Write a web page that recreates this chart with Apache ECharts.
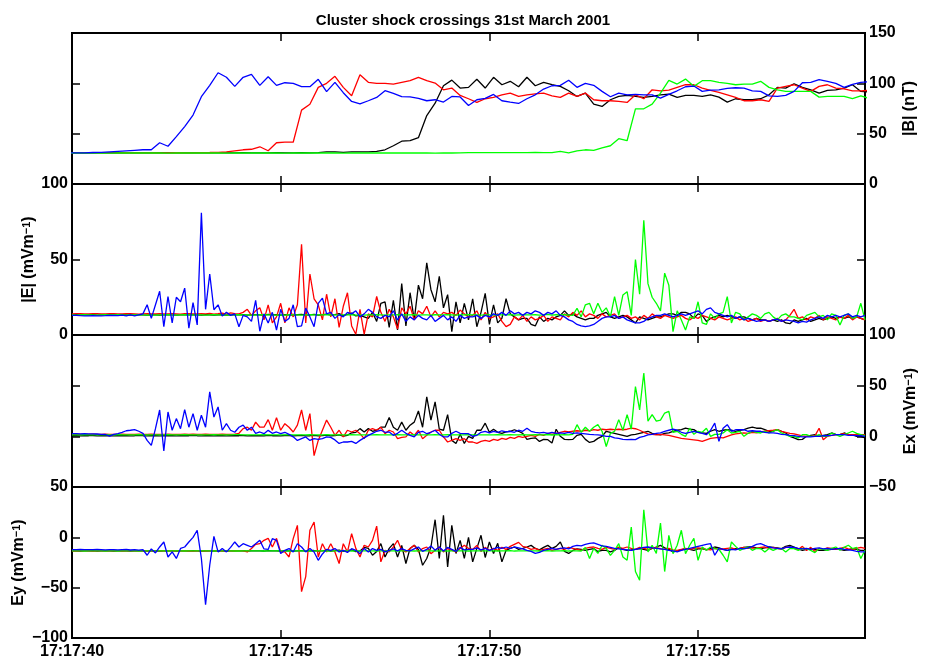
<!DOCTYPE html>
<html>
<head>
<meta charset="utf-8">
<script src="https://cdn.jsdelivr.net/npm/echarts@6/dist/echarts.min.js"></script>
<style>
  html, body { margin: 0; padding: 0; background: #ffffff; }
  #chart { width: 926px; height: 662px; }
</style>
</head>
<body>
<div id="chart"></div>
<script>
// Time is counted in seconds after 17:17:40 UT.
// |B| is sampled every 0.2 s, the electric field every 0.1 s.
const B_START = -0.1, B_STEP = 0.2;
const E_START = 0, E_STEP = 0.1;

// ---------- |B| (nT), spacecraft C1..C4 ----------
const B_C1 = [
  31, 31.1, 31, 30.9, 31, 31, 31.1, 31, 31, 30.9,
  31, 31.1, 31, 31, 30.9, 31, 31.1, 31, 31, 31,
  31, 31.1, 31, 30.9, 31, 31.1, 31, 31, 31.1, 31,
  31.2, 32, 32, 31.5, 32, 32, 32, 32.5, 34, 38,
  42.5, 43, 46, 68, 80.3, 97.6, 103.2, 95.3, 96, 104,
  95.3, 106, 98.6, 102, 96.6, 106, 97.6, 101, 98.6, 97,
  92.6, 87, 90.3, 79.3, 77, 83.7, 87, 88, 87, 86,
  87, 88.6, 89.3, 86, 88, 88, 87, 88.6, 86.3, 81.3,
  84.7, 83.7, 83.7, 84.7, 88.6, 96, 95.3, 99.6, 96, 93.6,
  90.3, 93, 93.6, 95.3, 98.6, 92, 91.5
];
const B_C2 = [
  31, 31, 31.1, 31, 31, 30.9, 31, 31.1, 31, 31,
  31, 31, 31, 31.1, 31, 31, 31.2, 31.3, 31.5, 32,
  33, 34, 34.5, 37, 33, 41, 41.5, 41.5, 73.4, 79.3,
  96, 100, 107, 96, 87.6, 108.6, 101, 100, 100, 99.3,
  101, 102.6, 106, 102.6, 100.3, 93.6, 95.3, 88, 84.7, 81,
  84.7, 86, 88.6, 90.3, 87, 88.6, 89.6, 90.3, 87.6, 86,
  90.3, 87, 90.3, 83.7, 82.7, 82.7, 82, 81, 88.6, 84.7,
  93.6, 92.6, 93.3, 96, 98.6, 98.6, 95.3, 93, 91, 88.6,
  86, 82.7, 82.7, 83.7, 82, 95.3, 97, 98.6, 95.3, 92,
  97, 98.6, 95.3, 94.6, 92.6, 92.6, 93
];
const B_C3 = [
  30.8, 30.8, 30.9, 30.8, 30.8, 30.7, 30.8, 30.8, 30.9, 30.8,
  30.8, 30.8, 30.7, 30.8, 30.8, 30.9, 30.8, 30.8, 30.8, 30.7,
  30.8, 30.8, 30.9, 30.8, 30.8, 30.8, 30.7, 30.8, 30.8, 30.9,
  30.8, 30.8, 30.8, 30.7, 30.8, 30.8, 30.9, 30.8, 30.8, 30.8,
  30.8, 30.9, 30.8, 30.8, 30.7, 30.8, 30.8, 31, 31.2, 31.1,
  31.2, 31.1, 31.2, 31.2, 31.1, 31.2, 31.3, 31.2, 31.2, 32.5,
  31, 33, 34, 33.5, 36, 38, 45, 43, 74.7, 74.7,
  79.3, 90.3, 103, 99.3, 104.2, 97, 102.6, 102.6, 101, 100,
  98.6, 99.3, 99.3, 102, 96, 93.6, 92, 92, 92, 92,
  86.3, 87, 87, 87, 84.7, 87.6, 85
];
const B_C4 = [
  31, 31, 31, 31.3, 31.5, 32, 32.5, 33, 33.5, 34,
  34, 41, 37.5, 47, 57, 68.5, 86.7, 98, 110.5, 106,
  97, 106, 109, 98, 106.5, 98, 100.6, 100, 96.7, 96.7,
  104, 91.7, 101, 90.7, 82, 79.7, 82.7, 86, 92.7, 90,
  86.7, 86.5, 85, 82.7, 83.7, 81.4, 87, 86.5, 78, 83.7,
  85, 89, 82.7, 81.3, 80, 84.7, 88.6, 94.3, 97.6, 98,
  103, 96, 100, 98, 92, 86.7, 90.3, 88.6, 89, 88.6,
  88.6, 85.3, 89, 92.6, 96.6, 97.3, 92, 93.3, 93.6, 95,
  95.6, 95.3, 92.6, 92, 87.6, 87, 88, 92, 100.6, 101,
  103.6, 102, 100, 96, 99, 101, 101.5
];

// ---------- |E| (mV/m) ----------
const E_C1 = [
  13.3, 13.4, 13.2, 13.3, 13.3, 13.5, 13.2, 13.3, 13.4, 13.3,
  13.2, 13.3, 13.4, 13.3, 13.2, 13.3, 13.5, 13.3, 13.2, 13.4,
  13.3, 13.2, 13.3, 13.4, 13.3, 13.2, 13.3, 13.4, 13.3, 13.5,
  13.3, 13.2, 13.4, 13.3, 13.2, 13.3, 13.4, 13.2, 13.3, 13.4,
  13.3, 13.5, 13.2, 13.3, 13.4, 13.3, 13.2, 13.6, 13.3, 13.4,
  13.2, 13.5, 13.3, 13.1, 13.4, 13.6, 13.2, 13.3, 13.7, 13.1,
  13.4, 13.8, 13.2, 13.5, 14.2, 12.8, 13.6, 14.5, 12.6, 13,
  12, 11, 15, 9, 21, 22, 5, 23, 3.3, 34,
  6, 28, 10, 33, 24, 47.8, 30, 22, 38.9, 18,
  26.7, 2.2, 22, 8, 21, 10, 24, 5.5, 15, 27.6,
  7, 20, 8, 11, 24, 14, 12, 10, 11, 11,
  7, 6, 12, 9, 11, 10, 12, 13, 16, 13,
  14, 12, 11, 10, 11, 11, 13, 14, 15, 12,
  11, 12, 13, 12, 10, 8, 12, 11, 10, 11,
  12, 12, 13, 14, 14, 13, 15, 15, 14, 11,
  14, 13, 9, 11, 12, 13, 12, 13, 12, 11,
  12, 12, 11, 10, 11, 10, 10, 9, 10, 9,
  10, 8, 7.5, 10, 9, 10, 11, 9, 10, 11,
  10, 11, 12, 11, 12, 11, 12, 11, 12, 11,
  10
];
const E_C2 = [
  14, 14.2, 14.1, 13.9, 14, 14.2, 14.1, 14, 13.9, 14.1,
  14.2, 14, 13.9, 14.1, 14.2, 14, 13.8, 14, 14.1, 13.9,
  14, 14.2, 14, 13.9, 14.1, 14, 13.8, 14.1, 14.2, 14,
  13.9, 14.1, 14, 14.3, 13.8, 14.1, 14.5, 13.9, 14.6, 14.2,
  14, 15, 17, 13, 16, 18, 10, 20, 8, 12,
  21, 8, 18, 12, 20, 60, 8, 40.4, 24, 20,
  10, 27, 12, 24, 5, 19, 28, 6, 0.5, 17,
  0.5, 14, 12, 25.5, 15, 9, 17, 12, 4, 18,
  14, 19, 10, 16, 14, 19, 12, 16, 12, 15,
  14, 15, 13, 16.5, 14, 12, 13, 16, 10, 15,
  11, 12, 14, 9, 5.5, 7, 12, 10, 13, 9,
  12, 10, 11, 13, 9, 12, 11, 10, 14, 12,
  15, 13, 16, 12, 14, 13, 11, 14, 12, 13,
  14, 11, 12, 13, 11, 12, 10, 13, 11, 14,
  12, 11, 13, 12, 11, 12, 13, 11, 10, 12,
  11, 13, 12, 11, 10, 12, 11, 10, 11, 12,
  10, 11, 9, 10, 11, 9, 10, 9, 10, 11,
  9, 10, 13, 17, 11, 12, 10, 12, 11, 13,
  10, 12, 11, 10, 12, 11, 13, 10, 12, 11,
  10
];
const E_C3 = [
  13.3, 13.2, 13.3, 13.4, 13.3, 13.3, 13.2, 13.3, 13.4, 13.3,
  13.3, 13.4, 13.3, 13.2, 13.3, 13.3, 13.4, 13.3, 13.2, 13.3,
  13.2, 13.3, 13.3, 13.4, 13.3, 13.2, 13.3, 13.4, 13.3, 13.3,
  13.3, 13.3, 13.2, 13.3, 13.4, 13.3, 13.3, 13.2, 13.3, 13.4,
  13.4, 13.3, 13.3, 13.2, 13.3, 13.3, 13.4, 13.3, 13.3, 13.2,
  13.3, 13.2, 13.4, 13.3, 13.3, 13.2, 13.3, 13.4, 13.3, 13.3,
  13.3, 13.4, 13.3, 13.3, 13.2, 13.3, 13.3, 13.4, 13.2, 13.3,
  13.2, 13.3, 13.3, 13.4, 13.3, 13.2, 13.3, 13.3, 13.4, 13.3,
  13.3, 13.3, 13.4, 13.2, 13.3, 13.3, 13.2, 13.4, 13.3, 13.3,
  13.4, 13.3, 13.2, 13.3, 13.3, 13.4, 13.3, 13.3, 13.2, 13.3,
  13.3, 13.2, 13.4, 13.3, 13.3, 13.5, 13.2, 13.3, 13.4, 13.3,
  13.3, 13.4, 13.2, 13.3, 13.6, 13.1, 13.4, 13.3, 13.5, 13.2,
  13, 17.7, 12, 20, 21, 14, 21, 15, 18, 12,
  25.4, 13, 26.5, 28.7, 13, 50, 27, 76, 34, 25,
  21, 16, 41, 33, 2.2, 16, 10, 3.3, 12, 11,
  22, 8, 7, 14, 11, 14, 15, 25.4, 8, 15,
  14, 10, 12, 14, 13, 11, 14, 15, 12, 10,
  13, 14, 12, 12, 11, 10, 13, 14, 15, 12,
  13, 10, 14, 13, 6.6, 13, 14, 11, 12, 21,
  10
];
const E_C4 = [
  13, 13, 12.8, 12.7, 12.7, 12.8, 12.6, 12.7, 12.8, 13,
  12.9, 12.8, 13.2, 12.7, 13.3, 12.6, 13.4, 14, 20, 11,
  20, 29, 5.5, 25.5, 8, 25, 22, 31, 4.5, 21.5,
  6.7, 81, 17, 40.4, 16.7, 20, 12.5, 15, 13, 14,
  5.5, 13, 12, 9, 23, 2.5, 14, 8, 15, 3.3,
  17, 9, 11, 20, 5.5, 6, 17.8, 12, 5.5, 21,
  24.4, 14, 15, 11, 13.5, 12, 15, 14, 16, 12,
  14, 17, 15, 12, 11, 13, 12, 16, 10, 14,
  9, 12, 10, 13, 11, 10, 13, 9, 11, 13,
  10, 12, 9, 13, 11, 12, 12, 13, 11, 13,
  12, 14, 13, 15, 13, 16, 14, 15, 13, 15,
  14, 16, 15, 13, 15, 14, 16, 13, 12, 10,
  9, 7, 6, 5.5, 6, 7, 9, 11, 12, 12,
  13, 11, 12, 10, 9, 8, 8, 9, 11, 12,
  13, 13, 14, 13, 12, 13, 14, 13, 14, 15,
  16, 14, 17, 18, 15, 14, 13, 12, 13, 11,
  12, 10, 11, 10, 9, 9.5, 10, 9, 10, 10.5,
  9, 10, 9.5, 9, 8, 9, 8.5, 10, 11, 12,
  11, 13, 12, 13, 12, 13, 14, 12, 13, 12,
  13
];

// ---------- Ex (mV/m) ----------
const EX_C1 = [
  0.6, 0.7, 0.5, 0.6, 0.6, 0.8, 0.5, 0.6, 0.7, 0.6,
  0.5, 0.6, 0.7, 0.6, 0.5, 0.6, 0.8, 0.6, 0.5, 0.7,
  0.6, 0.5, 0.6, 0.7, 0.6, 0.5, 0.6, 0.7, 0.6, 0.8,
  0.6, 0.5, 0.7, 0.6, 0.5, 0.6, 0.7, 0.5, 0.6, 0.7,
  0.6, 0.8, 0.5, 0.6, 0.7, 0.6, 0.5, 0.9, 0.6, 0.7,
  0.5, 0.8, 0.6, 0.4, 0.7, 0.9, 0.5, 0.6, 1, 0.4,
  0.7, 1.1, 0.5, 0.8, 1.5, 0.3, 1, 3.5, 4, 7.6,
  4.3, 7.6, 5, 6, 9, 9, 18.5, 9, 6, 14,
  6, 11, 14, 25, 9, 39, 16, 34, 7, 6,
  21.5, -4, -7, 2, -7, 0, -2, 6, 6, 13,
  4, 7, 4, 3, 4.5, 5, 6.5, 5, 3, -3,
  -2, -1.5, -5, -3, -3.3, -6.6, 7, 0, -3, -3.3,
  -3, 1, 2, -3, -6, -5, -2, 0, 5, 4,
  3, 2, 1, 0, 1.5, 2, 3, 4, 5, 3,
  2, 1.5, 3, 3.5, 5, 6, 6.6, 8, 7, 6.6,
  4, 3.5, 3, 5, 6.6, 5, 6, 6.6, 6, 5,
  6, 6.6, 8, 9, 8, 8, 6.6, 5, 5, 6.6,
  5, 3.3, 0, -1.6, -3.3, -3, 0, 1, 1.6, 0,
  1, 1.6, 3.3, 2, 1.6, 3.3, 2, 1.6, 0, 0,
  -1.6
];
const EX_C2 = [
  2, 2.1, 1.9, 2, 2, 2.2, 1.9, 2, 2.1, 2,
  1.9, 2, 2.1, 2, 1.9, 2, 2.2, 2, 1.9, 2.1,
  2, 1.9, 2, 2.1, 2, 1.9, 2, 2.1, 2, 2.2,
  2, 1.9, 2.1, 2, 1.9, 2, 2.1, 1.9, 2, 2.2,
  3, 7.6, 9, 6, 14, 9, 9, 16.5, 6, 18.5,
  6, 12.5, 9, 4.3, 11, 26, 6, 22.5, -19, -4,
  6, 16, 9, 1, 6, -0.6, 6, 4.3, 6, 2.6,
  -2.3, 6, 7.6, 6, 9, 2.6, 6, 4.3, -2.3, -1,
  -0.6, 4.3, 1, 6, -2.3, 1, 4.3, 6, 6, -0.6,
  -5.6, -4, -2.3, -4, -2.3, -5.6, -5.6, -7, -5, -4,
  -5, -3, -4, -2, -3, -1, -2, 0, -1, 0,
  1, 0, 2, 1, 3, 2, 3, 4, 5, 4.5,
  5, 5.5, 5, 6, 5.5, 6.6, 6, 7, 6.5, 7,
  6.6, 7, 6.5, 7, 8, 7.5, 6, 4, 2.5, 2,
  1.5, 2, 1.5, 1, 0, -1, -2, -2.5, -3, -3.5,
  -4, -5, -3.5, -2, -1.5, -1, -1.5, 0, 1.5, 2.5,
  3, 3.5, 3, 4, 3.5, 4.5, 5, 5.5, 6, 6.6,
  5, 4, 3, 2.5, 1.5, 0.5, 0, 0, 0.5, 8,
  -3.3, 0, 1, 1.5, 2, 2.6, 2, 1.6, 1.6, 1.6,
  1.6
];
const EX_C3 = [
  1.5, 1.4, 1.5, 1.6, 1.5, 1.5, 1.4, 1.5, 1.6, 1.5,
  1.5, 1.6, 1.5, 1.4, 1.5, 1.5, 1.6, 1.5, 1.4, 1.5,
  1.4, 1.5, 1.5, 1.6, 1.5, 1.4, 1.5, 1.6, 1.5, 1.5,
  1.5, 1.5, 1.4, 1.5, 1.6, 1.5, 1.5, 1.4, 1.5, 1.6,
  1.6, 1.5, 1.5, 1.4, 1.5, 1.5, 1.6, 1.5, 1.5, 1.4,
  1.5, 1.4, 1.6, 1.5, 1.5, 1.4, 1.5, 1.6, 1.5, 1.5,
  1.5, 1.6, 1.5, 1.5, 1.4, 1.5, 1.5, 1.6, 1.4, 1.5,
  1.4, 1.5, 1.5, 1.6, 1.5, 1.4, 1.5, 1.5, 1.6, 1.5,
  1.5, 1.5, 1.6, 1.4, 1.5, 1.5, 1.4, 1.6, 1.5, 1.5,
  1.6, 1.5, 1.4, 1.5, 1.5, 1.6, 1.5, 1.5, 1.4, 1.5,
  1.5, 1.4, 1.6, 1.5, 1.5, 1.7, 1.4, 1.5, 1.6, 1.5,
  1.5, 1.6, 1.4, 1.5, 1.8, 1.3, 1.6, 1.5, 1.7, 1.4,
  2, 11.5, 4, 9, 5, 9, 11.5, 5, -10, 3,
  5, 16.5, 6, 21.4, 7, 49, 26, 62.5, 15, 21.4,
  15, 16, 23, 24.7, 4, 5, 2, 0, 8, 2,
  5, 4, 8, 0, 2, 2, 3.3, 6.6, 3.3, 4,
  5, 0, 3, 5, 4, 3.3, 5, 3.3, 5, 6.6,
  3.3, 1.6, 0, 0, -1.6, 1.6, 1.6, 0, 0, 1.6,
  0, 0, 3.3, 1.6, 0, 1.6, 3.3, 5, 3, 1.6,
  0.6
];
const EX_C4 = [
  2.6, 2.6, 2.5, 2.6, 2.5, 2.4, 2.3, 2, 1.8, 0.3,
  2, 2.6, 4, 5.5, 6, 6.6, 5, 3, -4, -9,
  7.6, 26, -14.5, 24, 6, 17.5, 7.6, 26.4, 9, 22.4,
  6, 20.8, 9, 43.9, 19, 29, 6, 12.5, 6, 4,
  9, 11, 6, 9, 3, 4.3, 2.6, 5.9, 3, 4.3,
  2.6, 4, 2, -0.5, -4, -2.3, -0.6, -4, -2.3, -3,
  -2.3, -0.6, -1, -3.5, -7, -5.6, -5.6, -5, -7, -4,
  -1.5, 1, 3, 5, 6, 4, 4.3, 1, 3, 6,
  3, 1, -0.6, 4, 5, 2.6, 4, 6, 2, -0.6,
  -0.6, 3, 5, 3, 2.6, 2.6, 0, 1, 4, 5,
  3.5, 5, 4, 5.5, 4.5, 5, 4, 6, 5, 8,
  5, 4, 3.5, 4, 3, 4, 3, 3.5, 3, 4,
  3, 3.5, 3, 2.5, 2, 1.6, 1.5, 1, 0, 0,
  -1.5, -2, -3, -3.3, -3, -3.3, -1, 0, 1.5, 2,
  3, 3.5, 5, 6, 7, 6, 4, 3, 4, 5,
  4, 3, 1.6, 6, 13, -5, 8, 11.5, 5, 6.5,
  6.5, 6.5, 5, 5.5, 5, 5, 4, 3.5, 3.5, 3,
  2, 1.6, 1, 0.6, 0, -0.6, -0.6, -0.6, 0, 0,
  0.6, 0.6, 1, 1.6, 1.6, 1.6, 1, 1, 0.6, 0.6,
  0
];

// ---------- Ey (mV/m) ----------
const EY_C1 = [
  -13.5, -13.4, -13.6, -13.5, -13.5, -13.3, -13.6, -13.5, -13.4, -13.5,
  -13.6, -13.5, -13.4, -13.5, -13.6, -13.5, -13.3, -13.5, -13.6, -13.4,
  -13.5, -13.6, -13.5, -13.4, -13.5, -13.6, -13.5, -13.4, -13.5, -13.3,
  -13.5, -13.6, -13.4, -13.5, -13.6, -13.5, -13.4, -13.6, -13.5, -13.4,
  -13.5, -13.3, -13.6, -13.5, -13.4, -13.5, -13.6, -13.2, -13.5, -13.4,
  -13.6, -13.3, -13.5, -13.7, -13.4, -13.2, -13.6, -13.5, -13.1, -13.7,
  -13.4, -13, -13.6, -13.3, -12.6, -14, -13.2, -12.4, -14.2, -13.5,
  -10, -11, -17.8, -14, -6.3, -19.5, -11, -6.3, -19.5, -8,
  -26, -11, -7.9, -12, -27.7, -21, -9.6, 17.5, -21, 21.8,
  -29.4, 11.9, -16, -3, -21, 0, -24.4, -11, 2, -20,
  -4.6, -16, -6, -24.4, -12.9, -11, -9.6, -12, -11, -9.6,
  -8, -11, -12.5, -10, -8, -11, -9, -4.6, -14, -16,
  -13, -11.5, -12, -13, -12, -11.2, -14, -13, -12.9, -14.5,
  -13, -10, -12, -12.9, -12.5, -12, -11.2, -12, -12.9, -11,
  -9.6, -8, -10.5, -12, -14.5, -13.5, -12.5, -11.2, -12, -12.9,
  -11.5, -11.2, -12.5, -11, -9.6, -10.5, -12, -12.9, -12, -11.2,
  -11, -10, -9.6, -9.6, -10.5, -11.2, -10.5, -9.6, -10, -10.5,
  -11.2, -9, -8, -9.6, -11.5, -12.9, -12, -11.2, -12, -12.9,
  -12.9, -12.5, -12, -11.2, -12, -12.9, -12.5, -11.2, -12, -12.9,
  -12.9
];
const EY_C2 = [
  -13.5, -13.6, -13.4, -13.5, -13.5, -13.7, -13.4, -13.5, -13.6, -13.5,
  -13.4, -13.5, -13.6, -13.5, -13.4, -13.5, -13.7, -13.5, -13.4, -13.6,
  -13.5, -13.4, -13.5, -13.6, -13.5, -13.4, -13.5, -13.6, -13.5, -13.7,
  -13.5, -13.4, -13.6, -13.5, -13.4, -13.5, -13.6, -13.4, -13.5, -13.6,
  -13.5, -13.5, -14.5, -11.2, -7, -6.3, -3, -1, -9.6, -1,
  -14.5, -14.5, -19.5, -1.3, 11.9, -54, -39, 7, 15.2, -19.5,
  -6.3, -14.5, -6.3, -14.5, -26, -6.3, -14.5, 3.6, -11, -19.5,
  -7.9, -9.6, -3, 11.2, -24.4, -12.9, -14.5, -9.6, -3, -12.9,
  -14.5, -11.2, -7.9, -14.5, -11.2, -9.6, -16.2, -12.9, -9.6, -14.5,
  -11.2, -12.9, -14.5, -11.2, -7.9, -11, -12, -8, -14, -10,
  -13, -11, -13, -10, -12, -9, -7, -5, -9, -10,
  -12, -11, -13, -12, -11, -13, -12, -11, -12, -10,
  -11, -12, -13, -11, -10, -9.6, -11, -12, -10, -11,
  -12, -10, -11, -9.6, -11, -12, -10, -11, -12, -11,
  -10, -11.5, -12, -11, -12.5, -13, -12, -11, -12, -11,
  -10.5, -11, -12, -12.5, -11, -12, -11.5, -11, -10.5, -12,
  -11, -10, -11, -10.5, -11, -10, -9.6, -11, -10, -11,
  -12, -10, -9.6, -11, -12, -9, -13, -10, -14, -11,
  -12, -10.5, -11, -12, -11, -10, -11.5, -12, -11, -10,
  -11
];
const EY_C3 = [
  -13.5, -13.4, -13.5, -13.6, -13.5, -13.5, -13.4, -13.5, -13.6, -13.5,
  -13.5, -13.6, -13.5, -13.4, -13.5, -13.5, -13.6, -13.5, -13.4, -13.5,
  -13.4, -13.5, -13.5, -13.6, -13.5, -13.4, -13.5, -13.6, -13.5, -13.5,
  -13.5, -13.5, -13.4, -13.5, -13.6, -13.5, -13.5, -13.4, -13.5, -13.6,
  -13.6, -13.5, -13.5, -13.4, -13.5, -13.5, -13.6, -13.5, -13.5, -13.4,
  -13.5, -13.4, -13.6, -13.5, -13.5, -13.4, -13.5, -13.6, -13.5, -13.5,
  -13.5, -13.6, -13.5, -13.5, -13.4, -13.5, -13.5, -13.6, -13.4, -13.5,
  -13.4, -13.5, -13.5, -13.6, -13.5, -13.4, -13.5, -13.5, -13.6, -13.5,
  -13.5, -13.5, -13.6, -13.4, -13.5, -13.5, -13.4, -13.6, -13.5, -13.5,
  -13.6, -13.5, -13.4, -13.5, -13.5, -13.6, -13.5, -13.5, -13.4, -13.5,
  -13.5, -13.4, -13.6, -13.5, -13.5, -13.3, -13.6, -13.5, -13.4, -13.5,
  -13.5, -13.4, -13.6, -13.5, -13.2, -13.8, -13.4, -13.5, -13.3, -13.6,
  -13.5, -13.4, -13.6, -10, -21, -11, -16, -7.9, -11, -18,
  -13, -6.3, -19.5, -22.8, 10.2, -34, -42.6, 27.4, -14.5, -7.9,
  -16, 14.2, -34, 2, -16.2, -7.9, 7, -16.2, -7.9, -1,
  -22.8, -9.6, -12.9, -9.6, -11.2, -12, -17.8, -24.4, -4.6, -9,
  -12.9, -11, -9.6, -12.9, -11, -11.2, -14.5, -11, -12.9, -11.2,
  -11.2, -14.5, -11, -11.2, -12.9, -11, -11.2, -13, -15.2, -11.2,
  -12, -12.9, -11, -9.6, -12.9, -10, -7.9, -11.2, -10, -21,
  -12.9
];
const EY_C4 = [
  -12.2, -12.2, -12.1, -12.2, -12.3, -12.2, -12.1, -12.2, -12.4, -12.2,
  -12.2, -12.5, -12.2, -12, -12.6, -12.2, -12.8, -12.3, -17.8, -11.5,
  -15.5, -9.6, -4.6, -19.5, -14.5, -21, -11, -9.6, -4.6, 0,
  7, -21, -67, -27.7, 1, -14.5, -11, -14.5, -10, -4.6,
  -9.6, -6.3, -7.9, -9.6, -6.3, -3, -11.5, -12, -1.3, -3,
  -16, -12.9, -11.2, -14.5, -6.3, -9.6, -14.5, -11, -14.5, -22.8,
  -16.5, -12, -12.9, -11.2, -14.5, -13, -15, -11.2, -12.9, -16.2,
  -11, -14.5, -11.2, -12.9, -12, -14.5, -12.9, -11.5, -13.5, -11.2,
  -13, -13.5, -11.5, -9.6, -14, -12, -8.5, -12.9, -9.6, -13.5,
  -10, -12, -14, -10, -12.5, -12, -12, -10.5, -12.5, -11,
  -13, -11.5, -10, -11, -9.6, -11, -9.6, -10.5, -11.5, -13,
  -14, -16, -15, -13, -12, -11, -12, -11, -10.5, -11.5,
  -9, -8, -8.5, -7, -6, -5.6, -7, -8.5, -9, -10,
  -11, -11.5, -12, -12.5, -13, -12, -11, -10, -9.6, -10.5,
  -11, -11.5, -12, -13, -13.5, -14.5, -13, -12, -11, -10,
  -9, -8, -7, -6.3, -17.8, -11, -12, -13, -12, -12.5,
  -11, -11.5, -10.5, -9, -7, -6.3, -8, -9.6, -10.5, -11,
  -11.5, -10, -9.6, -10, -11, -11.5, -11, -12, -11, -10.5,
  -11.5, -11, -12, -11.5, -11, -12, -12.5, -13, -14, -14.5,
  -14.5
];

// Tick positions on the shared time axis (seconds after 17:17:40).
const TIME_TICKS = [0, 5, 10, 15];
const TIME_MAX = 19;

// Spacecraft colours, C1..C4.
const CRAFT_COLORS = ['#000000', '#ff0000', '#00ff00', '#0000ff'];

const FONT = '"Liberation Sans", Arial, Helvetica, sans-serif';

function toPairs(values, start, step) {
  return values.map((v, i) => [Math.round((start + i * step) * 1000) / 1000, v]);
}
function fmtNum(v) {
  return String(v).replace('-', '\u2212');
}
function unitName(prefix) {
  return '{n|' + prefix + ' (mVm}{s|\u22121}{n|)}';
}

const nameRich = {
  n: { fontFamily: FONT, fontSize: 16, fontWeight: 'bold', color: '#000' },
  s: { fontFamily: FONT, fontSize: 11, fontWeight: 'bold', color: '#000', verticalAlign: 'top' }
};

// Panel layout: stacked, sharing the time axis.
const PANELS = [
  { top: 33,  height: 151, min: 0,    max: 150, side: 'right', name: '{n||B| (nT)}', gap: 37,
    series: [B_C1, B_C2, B_C3, B_C4], start: B_START, step: B_STEP },
  { top: 184, height: 151, min: 0,    max: 100, side: 'left',  name: unitName('|E|'), gap: 35,
    series: [E_C1, E_C2, E_C3, E_C4], start: E_START, step: E_STEP },
  { top: 335, height: 152, min: -50,  max: 100, side: 'right', name: unitName('Ex'), gap: 38,
    series: [EX_C1, EX_C2, EX_C3, EX_C4], start: E_START, step: E_STEP },
  { top: 487, height: 151, min: -100, max: 50,  side: 'left',  name: unitName('Ey'), gap: 45,
    series: [EY_C1, EY_C2, EY_C3, EY_C4], start: E_START, step: E_STEP }
];

const grid = [], xAxis = [], yAxis = [], series = [];
const tickStyle = { show: true, inside: true, length: 8, lineStyle: { color: '#000', width: 1.5 } };

PANELS.forEach((p, i) => {
  const last = i === PANELS.length - 1;
  grid.push({
    left: 72, right: 61, top: p.top, height: p.height,
    outerBoundsMode: 'none', containLabel: false,
    show: true, borderColor: '#000', borderWidth: 2, backgroundColor: 'transparent'
  });
  ['bottom', 'top'].forEach(pos => {
    xAxis.push({
      type: 'value', gridIndex: i, position: pos, min: 0, max: TIME_MAX,
      axisLine: { show: false, onZero: false },
      splitLine: { show: false },
      axisTick: Object.assign({ customValues: TIME_TICKS.slice(1) }, tickStyle),
      axisLabel: {
        show: last && pos === 'bottom',
        customValues: TIME_TICKS,
        formatter: v => '17:17:' + String(40 + v),
        fontFamily: FONT, fontSize: 16, fontWeight: 'bold', color: '#000', margin: 6
      }
    });
  });
  ['left', 'right'].forEach(pos => {
    const labelled = pos === p.side;
    yAxis.push({
      type: 'value', gridIndex: i, position: pos, min: p.min, max: p.max, interval: 50,
      axisLine: { show: false, onZero: false },
      splitLine: { show: false },
      axisTick: tickStyle,
      axisLabel: {
        show: labelled, formatter: fmtNum,
        fontFamily: FONT, fontSize: 16, fontWeight: 'bold', color: '#000', margin: 4
      },
      name: labelled ? p.name : '',
      nameLocation: 'middle', nameRotate: 90, nameGap: p.gap, nameMoveOverlap: false,
      nameTextStyle: { rich: nameRich }
    });
  });
  p.series.forEach((vals, c) => {
    series.push({
      type: 'line', xAxisIndex: 2 * i, yAxisIndex: 2 * i + (p.side === 'left' ? 0 : 1),
      data: toPairs(vals, p.start, p.step),
      showSymbol: false, symbol: 'none', silent: true, clip: true,
      lineStyle: { color: CRAFT_COLORS[c], width: 1.3 },
      z: 2 + c
    });
  });
});

const chart = echarts.init(document.getElementById('chart'), null, { renderer: 'canvas' });
chart.setOption({
  animation: false,
  backgroundColor: '#ffffff',
  title: {
    text: 'Cluster shock crossings 31st March 2001',
    left: 'center', top: 8,
    textStyle: { fontFamily: FONT, fontSize: 15, fontWeight: 'bold', color: '#000' }
  },
  grid, xAxis, yAxis, series
});
</script>
</body>
</html>
